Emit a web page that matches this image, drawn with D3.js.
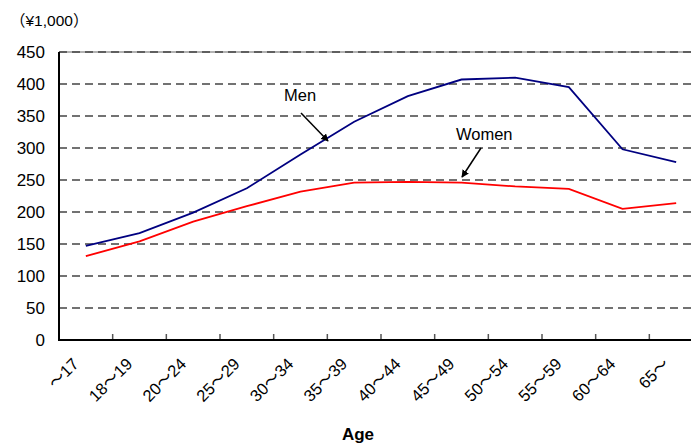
<!DOCTYPE html>
<html>
<head>
<meta charset="utf-8">
<script src="https://cdn.jsdelivr.net/npm/d3@7/dist/d3.min.js"></script>
<style>
  html, body { margin: 0; padding: 0; background: #fff; }
  svg { display: block; }
  text { font-family: "Liberation Sans", "Noto Sans CJK JP", Arial, sans-serif; fill: #000; }
</style>
</head>
<body>
<svg id="chart" width="691" height="445"></svg>
<script>
// Average annual wage by age group (¥1,000)
const ageGroups = ["～17", "18～19", "20～24", "25～29", "30～34", "35～39", "40～44",
                   "45～49", "50～54", "55～59", "60～64", "65～"];
const menWages   = [147, 167, 199, 237, 290, 341, 381, 407, 410, 395, 298, 278];
const womenWages = [131, 154, 185, 209, 232, 246, 247, 246, 240, 236, 205, 214];
const yTicks = [0, 50, 100, 150, 200, 250, 300, 350, 400, 450];

const svg = d3.select("#chart");
const plotLeft = 59, plotTop = 52, plotBottom = 340, plotRight = 703;

const x = d3.scaleBand().domain(ageGroups).range([plotLeft, plotRight]);
const y = d3.scaleLinear().domain([0, 450]).range([plotBottom, plotTop]);

// unit label
svg.append("text").attr("x", 10).attr("y", 26)
  .style("font-size", "15.5px").text("（¥1,000）");

// top frame line
svg.append("line").attr("x1", plotLeft).attr("x2", 691)
  .attr("y1", y(450)).attr("y2", y(450))
  .attr("stroke", "#999").attr("stroke-width", 1.5);

// dashed gridlines
svg.append("g").selectAll("line").data(yTicks.filter(d => d > 0)).join("line")
  .attr("x1", plotLeft).attr("x2", 691)
  .attr("y1", d => y(d)).attr("y2", d => y(d))
  .attr("stroke", "#444").attr("stroke-width", 1.5)
  .attr("stroke-dasharray", "8,5");

// y axis labels
svg.append("g").selectAll("text").data(yTicks).join("text")
  .attr("x", 45).attr("y", d => y(d) + 6)
  .attr("text-anchor", "end")
  .style("font-size", "17px")
  .text(d => d);

// x axis ticks (inward)
const boundaries = ageGroups.slice(1).map(g => x(g));
svg.append("g").selectAll("line").data(boundaries).join("line")
  .attr("x1", d => d).attr("x2", d => d)
  .attr("y1", plotBottom).attr("y2", plotBottom - 6)
  .attr("stroke", "#555").attr("stroke-width", 1.5);

// axes
svg.append("line").attr("x1", plotLeft).attr("x2", plotLeft)
  .attr("y1", plotTop).attr("y2", plotBottom + 1)
  .attr("stroke", "#000").attr("stroke-width", 2);
svg.append("line").attr("x1", plotLeft - 1).attr("x2", 691)
  .attr("y1", plotBottom).attr("y2", plotBottom)
  .attr("stroke", "#000").attr("stroke-width", 2);

// x labels rotated
svg.append("g").selectAll("text").data(ageGroups).join("text")
  .attr("transform", d => `translate(${x(d) + x.bandwidth() / 2 - 6},${plotBottom + 25}) rotate(-45)`)
  .attr("text-anchor", "end")
  .style("font-size", "16.5px")
  .text(d => d);

// axis title
svg.append("text").attr("x", 358).attr("y", 440)
  .attr("text-anchor", "middle")
  .style("font-size", "17px").style("font-weight", "bold")
  .text("Age");

// series lines
const line = d3.line()
  .x((d, i) => x(ageGroups[i]) + x.bandwidth() / 2)
  .y(d => y(d));

svg.append("path").datum(menWages).attr("d", line)
  .attr("fill", "none").attr("stroke", "#000080").attr("stroke-width", 1.8);
svg.append("path").datum(womenWages).attr("d", line)
  .attr("fill", "none").attr("stroke", "#ff0000").attr("stroke-width", 1.8);

// annotations with arrows
svg.append("defs").append("marker")
  .attr("id", "arrow").attr("viewBox", "0 0 10 10")
  .attr("refX", 9).attr("refY", 5)
  .attr("markerWidth", 5).attr("markerHeight", 5)
  .attr("orient", "auto")
  .append("path").attr("d", "M0,0 L10,5 L0,10 Z").attr("fill", "#000");

svg.append("text").attr("x", 284).attr("y", 101)
  .style("font-size", "16.5px").text("Men");
svg.append("line")
  .attr("x1", 301).attr("y1", 113).attr("x2", 328).attr("y2", 141)
  .attr("stroke", "#000").attr("stroke-width", 1.5)
  .attr("marker-end", "url(#arrow)");

svg.append("text").attr("x", 456).attr("y", 140)
  .style("font-size", "16.5px").text("Women");
svg.append("line")
  .attr("x1", 481).attr("y1", 148).attr("x2", 462).attr("y2", 177)
  .attr("stroke", "#000").attr("stroke-width", 1.5)
  .attr("marker-end", "url(#arrow)");
</script>
</body>
</html>
